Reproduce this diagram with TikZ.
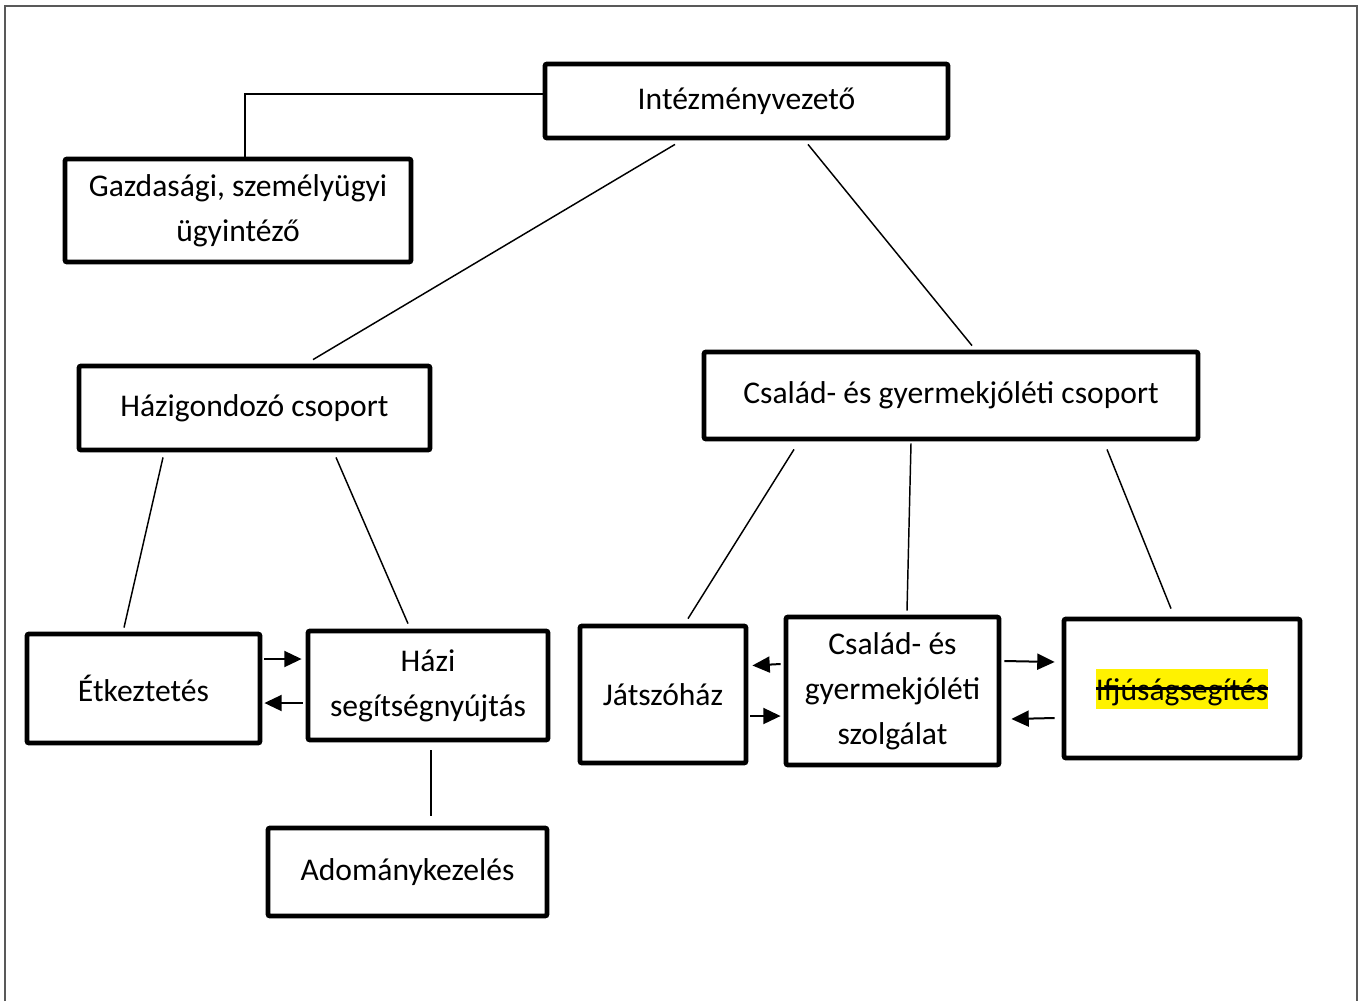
\documentclass[tikz,border=0pt]{standalone}
\usepackage{fontspec}
\setmainfont{Carlito}
\usepackage{tikz}
\usetikzlibrary{arrows.meta}
\usetikzlibrary{calc}
\tikzstyle{unit}=[shape=rectangle,draw,line width=3.6pt,rounded corners=1.5pt,inner sep=0pt,align=center,font=\fontsize{23.7}{33.8}\selectfont]
\tikzstyle{link}=[draw,line width=1.1pt]
\tikzstyle{flow}=[draw,line width=1.5pt,-{Triangle[length=13pt,width=12pt]}]
\newsavebox{\strikebox}
\newcommand{\hlstrike}[1]{\sbox{\strikebox}{#1}{\setlength{\fboxsep}{0pt}\colorbox{yellow}{\rule[-6pt]{0pt}{30pt}\rlap{\usebox{\strikebox}}\rule[8pt]{\wd\strikebox}{1.8pt}}}}

\begin{document}
\begin{tikzpicture}[x=0.75pt,y=-0.75pt]
		\useasboundingbox (0,0) rectangle (1360,1001);
		\draw[line width=1.5pt,color=black!65] (5,1001) -- (5,6) -- (1357,6) -- (1357,1001);
%
		\node[unit,minimum width=302.25pt,minimum height=55.5pt] (vez) at (746.5,101) {Intézményvezető};
		\node[unit,minimum width=259.5pt,minimum height=77.25pt] (gazd) at (238,210.5) {Gazdasági, személyügyi\\ügyintéző};
		\node[unit,minimum width=263.25pt,minimum height=63pt] (hazig) at (254.5,408) {Házigondozó csoport};
		\node[unit,minimum width=370.5pt,minimum height=65.25pt] (csal) at (951,395.5) {Család- és gyermekjóléti csoport};
		\node[unit,minimum width=174.75pt,minimum height=81.75pt] (etk) at (143.5,688.5) {Étkeztetés};
		\node[unit,minimum width=180pt,minimum height=81.75pt] (hazi) at (428,685.5) {Házi\\segítségnyújtás};
		\node[unit,minimum width=209.25pt,minimum height=66pt] (adom) at (407.5,872) {Adománykezelés};
		\node[unit,minimum width=124.5pt,minimum height=102.75pt] (jatsz) at (663,694.5) {Játszóház};
		\node[unit,minimum width=159.75pt,minimum height=111pt] (szolg) at (892.5,691) {Család- és\\gyermekjóléti\\szolgálat};
		\node[unit,minimum width=177pt,minimum height=104.25pt] (ifju) at (1182,688.5) {\hlstrike{Ifjúságsegítés}};
%
		\draw[link] ($(gazd.north)+(7,0)$) |- ($(vez.west)+(0,-7)$);
		\draw[link] ($(vez.south)+(-71.5,4)$) -- ($(hazig.north)+(58.5,-4)$);
		\draw[link] ($(vez.south)+(61.5,4)$) -- ($(csal.north)+(21,-4)$);
		\draw[link] ($(hazig.south)+(-91.5,5)$) -- ($(etk.north)+(-19.5,-4)$);
		\draw[link] ($(hazig.south)+(81.5,5)$) -- ($(hazi.north)+(-20,-5)$);
		\draw[link] ($(hazi.south)+(3,8)$) -- ($(adom.north)+(23.5,-10)$);
		\draw[link] ($(csal.south)+(-157,8)$) -- ($(jatsz.north)+(25,-5)$);
		\draw[link] ($(csal.south)+(-40,2)$) -- ($(szolg.north)+(14.5,-4)$);
		\draw[link] ($(csal.south)+(156,8)$) -- ($(ifju.north)+(-11,-8)$);
%
		\draw[flow] ($(etk.east)+(2,-29.5)$) -- ($(hazi.west)+(-4,-26.5)$);
		\draw[flow] ($(hazi.west)+(-3,17.5)$) -- ($(etk.east)+(2,14.5)$);
		\draw[flow] ($(szolg.west)+(-3,-27)$) -- ($(jatsz.east)+(4,-29)$);
		\draw[flow] ($(jatsz.east)+(2,21.5)$) -- ($(szolg.west)+(-3,25)$);
		\draw[flow] ($(szolg.east)+(3,-30)$) -- ($(ifju.west)+(-7,-26.5)$);
		\draw[flow] ($(ifju.west)+(-7,29.5)$) -- ($(szolg.east)+(10,28)$);
\end{tikzpicture}
\end{document}
